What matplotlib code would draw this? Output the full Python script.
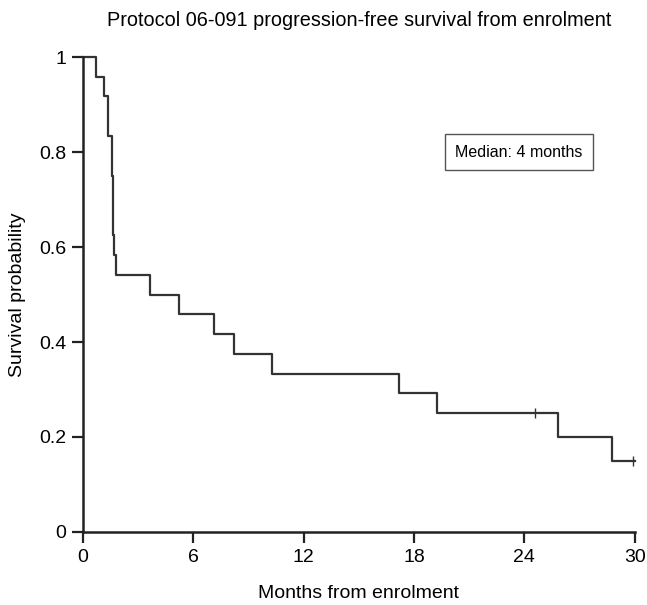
import matplotlib
matplotlib.use("Agg")
import matplotlib.pyplot as plt

plt.rcParams['font.family'] = ['Liberation Sans', 'DejaVu Sans']

# Kaplan-Meier step data (months, survival after event)
event_times = [0.71, 1.16, 1.38, 1.56, 1.65, 1.70, 1.79, 3.64, 5.23, 7.12, 8.24, 10.27, 17.2, 19.26, 25.83, 28.79]
survival = [0.958, 0.917, 0.833, 0.75, 0.625, 0.583, 0.542, 0.5, 0.458, 0.417, 0.375, 0.333, 0.292, 0.25, 0.2, 0.15]
censor_times = [24.57, 29.9]
censor_surv = [0.25, 0.15]
end_time = 30.0

x_ticks = [0, 6, 12, 18, 24, 30]
y_ticks = [0, 0.2, 0.4, 0.6, 0.8, 1]
y_tick_labels = ["0", "0.2", "0.4", "0.6", "0.8", "1"]

fig = plt.figure(figsize=(6.47, 6.05), dpi=100)
ax = fig.add_axes([0.128, 0.1207, 0.853, 0.785])

xs = [0.0] + event_times + [end_time]
ys = [1.0] + survival + [survival[-1]]
ax.step(xs, ys, where='post', color='#333333', lw=1.6, clip_on=False)
ax.plot(censor_times, censor_surv, linestyle='none', marker='|', markersize=7,
        color='#333333', mew=1.0, clip_on=False)

ax.set_xlim(0, 30)
ax.set_ylim(0, 1)
ax.set_xticks(x_ticks)
ax.set_yticks(y_ticks)
ax.set_yticklabels(y_tick_labels)
for s in ['top', 'right']:
    ax.spines[s].set_visible(False)
for s in ['left', 'bottom']:
    ax.spines[s].set_linewidth(1.8)
    ax.spines[s].set_color('#222222')
ax.tick_params(direction='out', length=8, width=1.6, labelsize=14, color='#222222', pad=4)

ax.set_xlabel("Months from enrolment", fontsize=14, labelpad=14)
ax.set_ylabel("Survival probability", fontsize=14, labelpad=9)
ax.set_title("Protocol 06-091 progression-free survival from enrolment", fontsize=14.3, pad=22)

ax.text(0.79, 0.80, "Median: 4 months", transform=ax.transAxes, fontsize=11.5,
        ha='center', va='center',
        bbox=dict(boxstyle='square,pad=0.65', fc='white', ec='#555555', lw=1.0))

fig.savefig("out.png", dpi=100)
